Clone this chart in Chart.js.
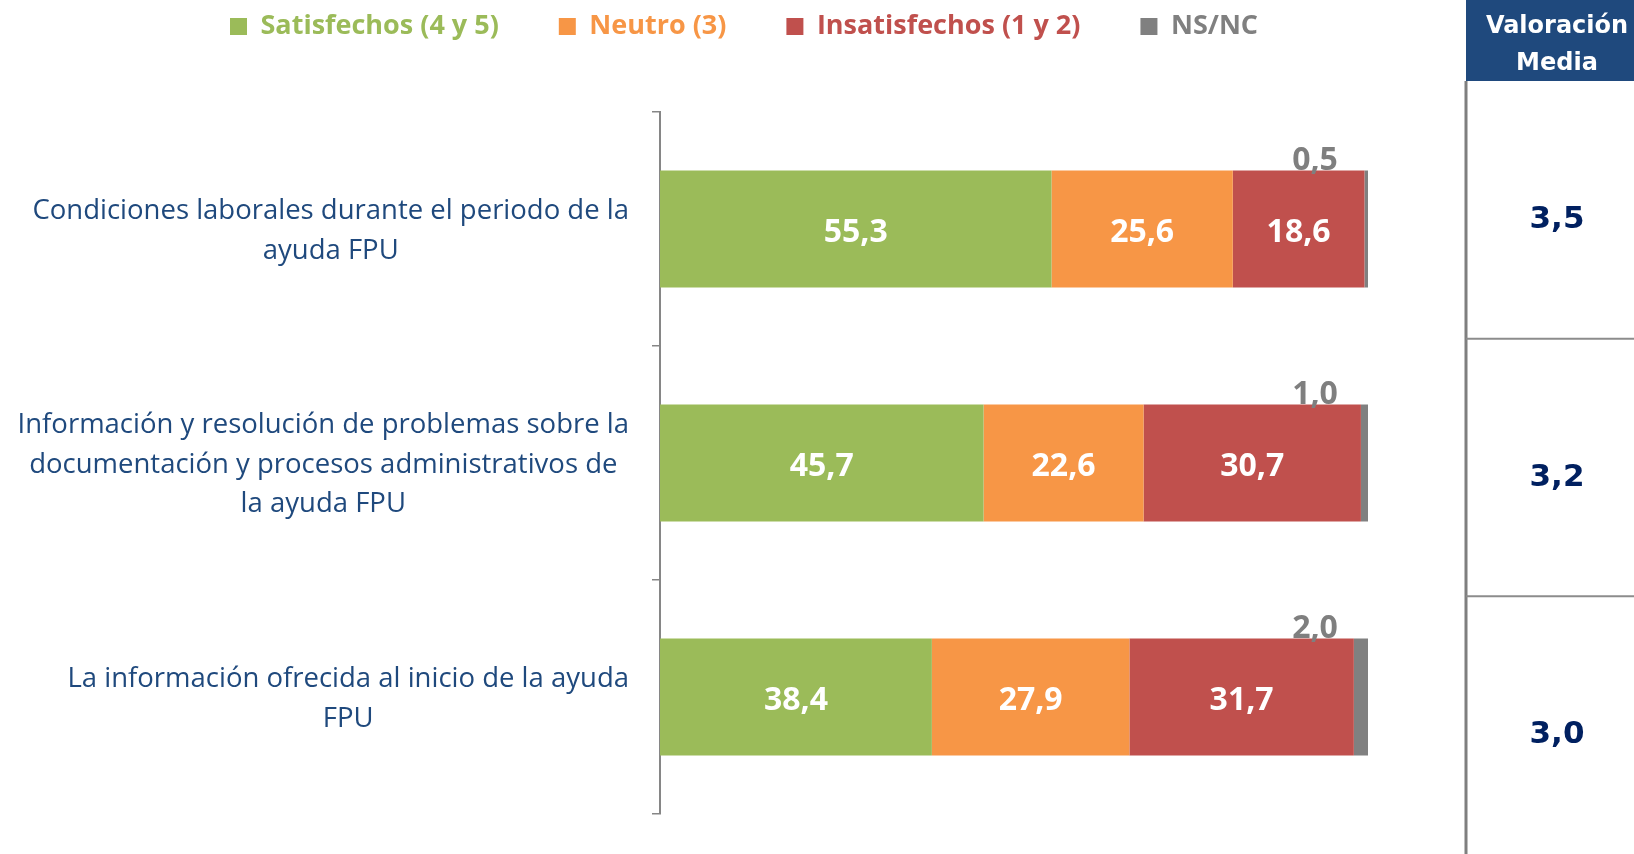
<!DOCTYPE html>
<html lang="es">
<head>
<meta charset="utf-8">
<title>Valoración ayuda FPU</title>
<script src="https://cdn.jsdelivr.net/npm/chart.js@4.4.1/dist/chart.umd.min.js"></script>
<style>
    html, body { margin: 0; padding: 0; background: #fff; }
</style>
</head>
<body>
<canvas id="chart" width="1634" height="854"></canvas>
<script>
const categories = [
    ['Condiciones laborales durante el periodo de la', 'ayuda FPU'],
    ['Información y resolución de problemas sobre la', 'documentación y procesos administrativos de', 'la ayuda FPU'],
    ['La información ofrecida al inicio de la ayuda', 'FPU']
];
const satisfechos = [55.3, 45.7, 38.4];
const neutro = [25.6, 22.6, 27.9];
const insatisfechos = [18.6, 30.7, 31.7];
const nsnc = [0.5, 1.0, 2.0];
const valoracionMedia = [3.5, 3.2, 3.0];
const seriesNames = ['Satisfechos (4 y 5)', 'Neutro (3)', 'Insatisfechos (1 y 2)', 'NS/NC'];
const seriesColors = ['#9BBB59', '#F79646', '#C0504D', '#808080'];

const fmt = v => v.toFixed(1).replace('.', ',');

// numbers inside the bars, NS/NC above the bar end
const barLabels = {
    id: 'barLabels',
    afterDatasetsDraw(chart) {
        const ctx = chart.ctx;
        ctx.save();
        ctx.font = 'bold 32px "Open Sans"';
        ctx.textAlign = 'center';
        chart.data.datasets.forEach((ds, i) => {
            chart.getDatasetMeta(i).data.forEach((bar, j) => {
                const v = ds.data[j];
                if (i < 3) {
                    ctx.fillStyle = '#fff';
                    ctx.textBaseline = 'middle';
                    ctx.fillText(fmt(v), (bar.base + bar.x) / 2, bar.y + 4);
                } else {
                    ctx.fillStyle = '#7F7F7F';
                    ctx.textBaseline = 'alphabetic';
                    ctx.fillText(fmt(v), bar.x - 53, bar.y - bar.height / 2 - 1);
                }
            });
        });
        ctx.restore();
    }
};

// category labels: each block right-aligned to the axis, lines centred inside it
const categoryLabels = {
    id: 'categoryLabels',
    afterDraw(chart) {
        const ctx = chart.ctx;
        const yScale = chart.scales.y;
        const lineH = 39.5;
        ctx.save();
        ctx.font = '27.5px "Open Sans"';
        ctx.fillStyle = '#1F497D';
        ctx.textAlign = 'center';
        ctx.textBaseline = 'middle';
        categories.forEach((lines, i) => {
            const yc = yScale.getPixelForTick(i) + 2;
            const widest = Math.max(...lines.map(l => ctx.measureText(l).width));
            const cx = yScale.right - 31 - widest / 2;
            lines.forEach((l, k) => {
                ctx.fillText(l, cx, yc + (k - (lines.length - 1) / 2) * lineH);
            });
        });
        ctx.restore();
    }
};

// "Valoración Media" column on the right
const mediaPanel = {
    id: 'mediaPanel',
    afterDraw(chart) {
        const {ctx, width, height} = chart;
        const left = 1466;
        const headH = 81;
        const cx = 1557;
        ctx.save();
        ctx.fillStyle = '#1F497D';
        ctx.fillRect(left, 0, width - left, headH);
        ctx.fillStyle = '#fff';
        ctx.font = 'bold 24px "DejaVu Sans"';
        ctx.textAlign = 'center';
        ctx.textBaseline = 'middle';
        ctx.fillText('Valoración', cx, 27);
        ctx.fillText('Media', cx, 64);

        ctx.strokeStyle = '#7F7F7F';
        ctx.lineWidth = 3;
        ctx.beginPath();
        ctx.moveTo(left, headH);
        ctx.lineTo(left, height);
        ctx.stroke();

        const rowH = (height - headH) / valoracionMedia.length;
        ctx.lineWidth = 2;
        ctx.strokeStyle = '#8C8C8C';
        for (let i = 1; i < valoracionMedia.length; i++) {
            const y = headH + i * rowH;
            ctx.beginPath();
            ctx.moveTo(left, y);
            ctx.lineTo(width, y);
            ctx.stroke();
        }

        ctx.fillStyle = '#002060';
        ctx.font = 'bold 31px "DejaVu Sans"';
        valoracionMedia.forEach((v, i) => {
            ctx.fillText(fmt(v), cx, headH + (i + 0.5) * rowH + 10);
        });
        ctx.restore();
    }
};

const seriesData = [satisfechos, neutro, insatisfechos, nsnc];

new Chart(document.getElementById('chart'), {
    type: 'bar',
    data: {
        labels: categories,
        datasets: seriesNames.map((name, i) => ({
            label: name,
            data: seriesData[i],
            backgroundColor: seriesColors[i],
            borderWidth: 0,
            categoryPercentage: 0.5,
            barPercentage: 1
        }))
    },
    options: {
        indexAxis: 'y',
        responsive: false,
        animation: false,
        layout: { padding: { top: -47, left: 170, right: 266, bottom: 40 } },
        scales: {
            x: {
                stacked: true,
                min: 0,
                max: 100,
                position: 'top',
                ticks: { display: false },
                grid: { display: false },
                border: { display: false },
                afterFit(scale) { scale.height = 62; }
            },
            y: {
                stacked: true,
                ticks: { display: false },
                grid: { drawOnChartArea: false, color: '#868686', lineWidth: 1.5, tickLength: 8 },
                border: { color: '#868686', width: 2 },
                afterFit(scale) { scale.width = 490; }
            }
        },
        plugins: {
            legend: {
                position: 'top',
                align: 'start',
                labels: {
                    boxWidth: 17,
                    boxHeight: 17,
                    padding: 60,
                    font: { family: 'Open Sans', size: 27, weight: 'bold' },
                    generateLabels(chart) {
                        const items = Chart.defaults.plugins.legend.labels.generateLabels(chart);
                        items.forEach((item, i) => {
                            item.fontColor = seriesColors[i];
                            item.lineWidth = 0;
                        });
                        return items;
                    }
                }
            },
            tooltip: { enabled: false }
        }
    },
    plugins: [barLabels, categoryLabels, mediaPanel]
});
</script>
</body>
</html>
